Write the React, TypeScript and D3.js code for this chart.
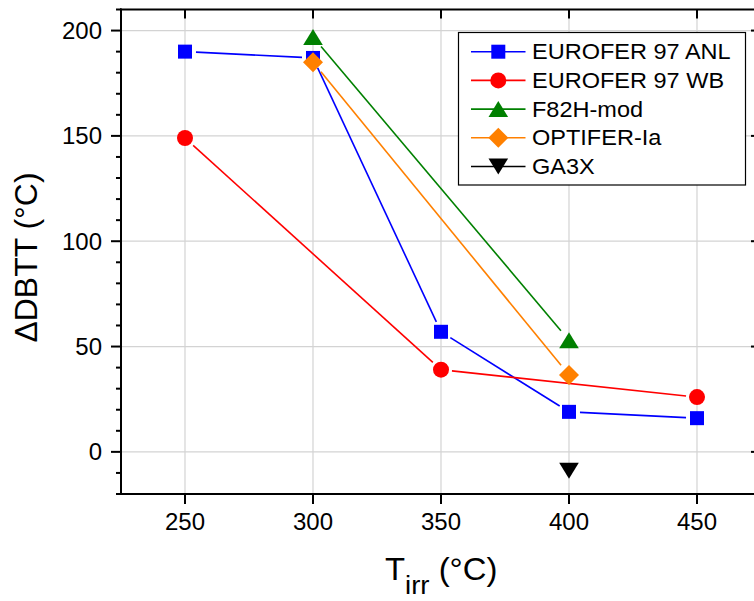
import React from "react";
import * as d3 from "d3";

const temps = [250, 300, 350, 400, 450];

const seriesNames = ["EUROFER 97 ANL", "EUROFER 97 WB", "F82H-mod", "OPTIFER-Ia", "GA3X"];
const anlX = [250, 300, 350, 400, 450];
const anlY = [190, 187, 57, 19, 16];
const wbX = [250, 350, 450];
const wbY = [149, 39, 26];
const f82X = [300, 400];
const f82Y = [197, 53];
const optX = [300, 400];
const optY = [185, 36.5];
const ga3xX = [400];
const ga3xY = [-9];

const xTicks = [250, 300, 350, 400, 450];
const yTicks = [0, 50, 100, 150, 200];
const yMinor = [-20, -10, 10, 20, 30, 40, 60, 70, 80, 90, 110, 120, 130, 140, 160, 170, 180, 190, 210];

const W = 754, H = 601;
const L = 121, R = 761, T = 9.5, B = 494;
const FONT = "'Liberation Sans', Arial, sans-serif";

type Shape = "square" | "circle" | "tri" | "diamond" | "tridown";

const series: { name: string; xs: number[]; ys: number[]; color: string; shape: Shape; gap: number }[] = [
  { name: seriesNames[0], xs: anlX, ys: anlY, color: "#0000FF", shape: "square", gap: 11 },
  { name: seriesNames[1], xs: wbX, ys: wbY, color: "#FF0000", shape: "circle", gap: 11 },
  { name: seriesNames[2], xs: f82X, ys: f82Y, color: "#008000", shape: "tri", gap: 12.5 },
  { name: seriesNames[3], xs: optX, ys: optY, color: "#FF8000", shape: "diamond", gap: 12.5 },
  { name: seriesNames[4], xs: ga3xX, ys: ga3xY, color: "#000000", shape: "tridown", gap: 12.5 },
];

function Marker({ shape, x, y, color }: { shape: Shape; x: number; y: number; color: string }) {
  switch (shape) {
    case "square":
      return <rect x={x - 7} y={y - 7} width={14} height={14} fill={color} />;
    case "circle":
      return <circle cx={x} cy={y} r={8} fill={color} />;
    case "tri":
      return <path d={`M${x},${y - 8}L${x + 9.8},${y + 8}L${x - 9.8},${y + 8}Z`} fill={color} />;
    case "tridown":
      return <path d={`M${x},${y + 8}L${x + 9.8},${y - 8}L${x - 9.8},${y - 8}Z`} fill={color} />;
    case "diamond":
      return <path d={`M${x},${y - 10}L${x + 10},${y}L${x},${y + 10}L${x - 10},${y}Z`} fill={color} />;
  }
}

export default function App() {
  const x = d3.scaleLinear().domain([225, 475]).range([L, R]);
  const y = d3.scaleLinear().domain([-20, 210]).range([B, T]);
  const line = d3.line<[number, number]>().x((d) => d[0]).y((d) => d[1]);

  const segments = (s: (typeof series)[number]) => {
    const out: string[] = [];
    for (let i = 0; i < s.xs.length - 1; i++) {
      const x0 = x(s.xs[i]), y0 = y(s.ys[i]);
      const x1 = x(s.xs[i + 1]), y1 = y(s.ys[i + 1]);
      const dx = x1 - x0, dy = y1 - y0;
      const len = Math.hypot(dx, dy);
      const ux = dx / len, uy = dy / len;
      out.push(
        line([
          [x0 + ux * s.gap, y0 + uy * s.gap],
          [x1 - ux * s.gap, y1 - uy * s.gap],
        ]) as string
      );
    }
    return out;
  };

  const legX = 458.5, legY = 32.5, legW = 287, legH = 152.5;
  const rowY = (i: number) => 51.7 + i * 28.7;

  return (
    <svg width={W} height={H} style={{ position: "absolute", left: 0, top: 0, background: "#fff" }}>
      <rect x={0} y={0} width={W} height={H} fill="#fff" />
      {/* grid */}
      {xTicks.map((t) => (
        <line key={"gx" + t} x1={x(t)} x2={x(t)} y1={T} y2={B} stroke="#d3d3d3" strokeWidth={1.2} />
      ))}
      {yTicks.map((t) => (
        <line key={"gy" + t} x1={L} x2={R} y1={y(t)} y2={y(t)} stroke="#d3d3d3" strokeWidth={1.2} />
      ))}

      {/* series lines */}
      {series.map((s) =>
        segments(s).map((d, i) => (
          <path key={s.name + i} d={d} fill="none" stroke={s.color} strokeWidth={1.6} />
        ))
      )}
      {/* markers */}
      {series.map((s) =>
        s.xs.map((v, i) => <Marker key={s.name + "m" + i} shape={s.shape} x={x(v)} y={y(s.ys[i])} color={s.color} />)
      )}

      {/* axes frame */}
      <line x1={L} x2={L} y1={T - 1} y2={B + 1} stroke="#000" strokeWidth={2} />
      <line x1={L - 1} x2={R} y1={B} y2={B} stroke="#000" strokeWidth={2} />
      <line x1={L - 1} x2={R} y1={T} y2={T} stroke="#000" strokeWidth={2} />
      <line x1={R} x2={R} y1={T} y2={B} stroke="#000" strokeWidth={2} />

      {/* x ticks */}
      {xTicks.map((t) => (
        <g key={"xt" + t}>
          <line x1={x(t)} x2={x(t)} y1={B} y2={B + 10} stroke="#000" strokeWidth={2} />
          <line x1={x(t)} x2={x(t)} y1={T} y2={T + 9} stroke="#000" strokeWidth={2} />
          <text x={x(t)} y={530} textAnchor="middle" fontFamily={FONT} fontSize={24} fill="#000">
            {t}
          </text>
        </g>
      ))}
      {/* y ticks */}
      {yTicks.map((t) => (
        <g key={"yt" + t}>
          <line x1={L - 10} x2={L} y1={y(t)} y2={y(t)} stroke="#000" strokeWidth={2} />
          <line x1={R - 10} x2={R} y1={y(t)} y2={y(t)} stroke="#000" strokeWidth={2} />
          <text x={102} y={y(t) + 8.5} textAnchor="end" fontFamily={FONT} fontSize={24} fill="#000">
            {t}
          </text>
        </g>
      ))}
      {yMinor.map((t) => (
        <g key={"ym" + t}>
          <line x1={L - 5} x2={L} y1={y(t)} y2={y(t)} stroke="#000" strokeWidth={2} />
          <line x1={R - 5} x2={R} y1={y(t)} y2={y(t)} stroke="#000" strokeWidth={2} />
        </g>
      ))}

      {/* axis titles */}
      <text transform="translate(385,580) scale(1.06,1)" fontFamily={FONT} fontSize={31} fill="#000">
        T<tspan fontSize={26} dy={14}>irr</tspan>
        <tspan dy={-14}> (°C)</tspan>
      </text>
      <text
        transform={`translate(37,257.5) rotate(-90) scale(1.03,1)`}
        textAnchor="middle"
        fontFamily={FONT}
        fontSize={31}
        fill="#000"
      >
        ΔDBTT (°C)
      </text>

      {/* legend */}
      <rect x={legX} y={legY} width={legW} height={legH} fill="#fff" stroke="#000" strokeWidth={1.2} />
      {series.map((s, i) => (
        <g key={"lg" + i}>
          <line x1={471} x2={525.5} y1={rowY(i)} y2={rowY(i)} stroke={s.color} strokeWidth={1.6} />
          <Marker shape={s.shape} x={498.3} y={rowY(i)} color={s.color} />
          <text
            transform={`translate(532,${rowY(i) + 7.6}) scale(1.06,1)`}
            fontFamily={FONT}
            fontSize={22.2}
            fill="#000"
          >
            {s.name}
          </text>
        </g>
      ))}
    </svg>
  );
}
